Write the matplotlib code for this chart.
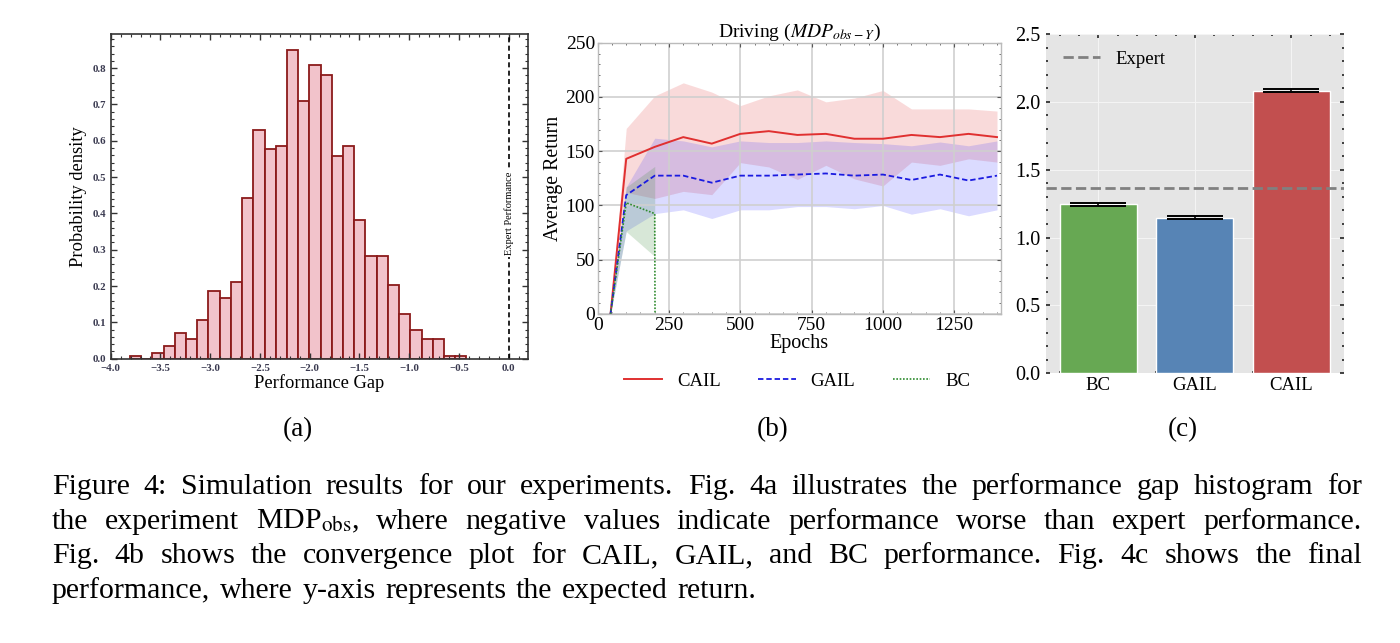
import numpy as np
import matplotlib
matplotlib.use("Agg")
import matplotlib.pyplot as plt
from matplotlib.ticker import MultipleLocator

plt.rcParams['font.family'] = ['Liberation Serif', 'DejaVu Serif']
plt.rcParams['mathtext.fontset'] = 'stix'

# ---------------- data ----------------
# (a) histogram of performance gap (30 bins)
hist_start = -3.806
hist_width = 0.1127
hist_density = [0.008, 0.0, 0.017, 0.036, 0.071, 0.053, 0.106, 0.186, 0.168, 0.212,
                0.443, 0.630, 0.576, 0.585, 0.851, 0.710, 0.808, 0.781, 0.559, 0.585,
                0.381, 0.283, 0.283, 0.204, 0.124, 0.079, 0.053, 0.053, 0.008, 0.008]
expert_gap = 0.0

# (b) convergence curves
epochs = [45, 100, 200, 300, 400, 500, 600, 700, 800, 900, 1000, 1100, 1200, 1300, 1400]
cail_mean = [0, 143, 154, 163, 157, 166, 168.5, 165, 166, 161.5, 161.5, 165, 163, 166, 163]
cail_upper = [0, 171, 201, 213, 204.5, 192, 201, 206.5, 195.5, 199, 206, 189, 189, 189, 187]
cail_lower = [0, 112, 106.5, 113, 110, 139.5, 135.5, 124, 137, 124.5, 118, 140, 137, 143, 140]
gail_mean = [0, 109.5, 127.5, 127.5, 121, 127.5, 127.5, 128.5, 129.5, 127.5, 128.5, 123.5, 128.5, 123, 127.5]
gail_upper = [0, 117, 162, 159.5, 154, 159.5, 158, 158, 159.5, 158, 157, 155, 158.5, 155, 159.5]
gail_lower = [0, 76.5, 92.5, 96, 88, 96, 96, 99, 99, 97, 100, 92, 97, 90.5, 96]
bc_epochs = [45, 100, 200, 201]
bc_mean = [0, 102.5, 92.5, 0]
bc_band_epochs = [45, 100, 200]
bc_upper = [0, 117, 136]
bc_lower = [0, 76, 53]

# (c) final performance
methods = ['BC', 'GAIL', 'CAIL']
final_return = [1.245, 1.147, 2.083]
final_err = [0.012, 0.012, 0.012]
expert_return = 1.368

caption_lines = [
    "Figure 4: Simulation results for our experiments. Fig. 4a illustrates the performance gap histogram for",
    r"the experiment MDP$_{\mathrm{obs}}$, where negative values indicate performance worse than expert performance.",
    "Fig. 4b shows the convergence plot for CAIL, GAIL, and BC performance. Fig. 4c shows the final",
    "performance, where y-axis represents the expected return.",
]

# ---------------- figure ----------------
W, H = 1400, 643
fig = plt.figure(figsize=(W / 100, H / 100), dpi=100)

def box(l, t, r, b):
    return [l / W, 1 - b / H, (r - l) / W, (b - t) / H]

# ---- (a) ----
axa = fig.add_axes(box(110.7, 34, 528, 358.7))
edges = hist_start + hist_width * np.arange(len(hist_density))
axa.bar(edges, hist_density, width=hist_width, align='edge',
        color='#f2c3cb', edgecolor='#8b1a1a', linewidth=1.3)
axa.axvline(expert_gap, color='black', ls=(0, (3, 2)), lw=1.2)
axa.text(expert_gap, 0.40, 'Expert Performance', rotation=90, ha='center', va='center',
         fontsize=7.5, bbox=dict(facecolor='white', edgecolor='none', pad=1.5))
axa.set_xlim(-4.0, 0.194)
axa.set_ylim(0, 0.894)
axa.xaxis.set_major_locator(MultipleLocator(0.5))
axa.yaxis.set_major_locator(MultipleLocator(0.1))
axa.xaxis.set_minor_locator(MultipleLocator(0.1))
axa.yaxis.set_minor_locator(MultipleLocator(0.02))
axa.tick_params(which='both', direction='in', top=True, right=True, colors='#333333',
                labelsize=7.8, labelcolor='#3a3a50')
axa.tick_params(which='major', length=4, width=1.0)
axa.tick_params(which='minor', length=2, width=0.8)
for lab in axa.get_xticklabels() + axa.get_yticklabels():
    lab.set_fontweight('bold')
for s in axa.spines.values():
    s.set_color('#333333'); s.set_linewidth(1.2)
axa.set_xlabel('Performance Gap', fontsize=13.3, labelpad=1)
axa.set_ylabel('Probability density', fontsize=13.3, labelpad=4)

# ---- (b) ----
axb = fig.add_axes(box(597.7, 42.7, 1001, 314))
axb.fill_between(epochs, cail_lower, cail_upper, color='#e02828', alpha=0.17, lw=0)
axb.fill_between(epochs, gail_lower, gail_upper, color='#2a2aff', alpha=0.17, lw=0)
axb.fill_between(bc_band_epochs, bc_lower, bc_upper, color='#3a8a3a', alpha=0.2, lw=0)
axb.plot(epochs, cail_mean, color='#e03030', lw=1.4, label='CAIL')
axb.plot(epochs, gail_mean, color='#1a1ae0', lw=1.3, ls=(0, (3, 1.6)), label='GAIL')
axb.plot(bc_epochs, bc_mean, color='#2e8b2e', lw=1.2, ls=(0, (1, 1)), label='BC')
axb.set_xlim(0, 1414)
axb.set_ylim(0, 250)
axb.xaxis.set_major_locator(MultipleLocator(250))
axb.yaxis.set_major_locator(MultipleLocator(50))
axb.xaxis.set_minor_locator(MultipleLocator(50))
axb.yaxis.set_minor_locator(MultipleLocator(10))
axb.grid(True, which='major', color='#cfcfcf', lw=1.2)
axb.tick_params(which='both', direction='in', top=True, right=True, colors='#555555',
                labelsize=14, labelcolor='black', pad=2)
axb.tick_params(which='major', length=3, width=0.8)
axb.tick_params(which='minor', length=1.5, width=0.6)
for s in axb.spines.values():
    s.set_color('#bbbbbb'); s.set_linewidth(1.0)
axb.set_title(r'Driving ($MDP_{obs-Y}$)', fontsize=14, pad=3)
axb.set_xlabel('Epochs', fontsize=14.5, labelpad=0)
axb.set_ylabel('Average Return', fontsize=14.3, labelpad=2)
axb.legend(loc='upper center', bbox_to_anchor=(0.495, -0.155), ncol=3, frameon=False,
           fontsize=13.5, handlelength=2.0, handletextpad=0.8, columnspacing=2.0)

# ---- (c) ----
axc = fig.add_axes(box(1045.7, 34, 1344, 373.3))
axc.set_facecolor('#e5e5e5')
bar_colors = ['#67a853', '#5784b5', '#c24f4f']
x = np.arange(len(methods))
axc.bar(x, final_return, width=0.8, color=bar_colors, edgecolor='white', linewidth=1.0,
        zorder=2)
axc.errorbar(x, final_return, yerr=final_err, fmt='none', ecolor='black', elinewidth=1.2,
             capsize=20, capthick=1.4, zorder=3)
axc.axhline(expert_return, color='#808080', ls='--', lw=2, label='Expert', zorder=2.5)
axc.set_xlim(-0.545, 2.545)
axc.set_ylim(0, 2.5)
axc.set_xticks(x)
axc.set_xticklabels(methods)
axc.yaxis.set_major_locator(MultipleLocator(0.5))
axc.yaxis.set_minor_locator(MultipleLocator(0.1))
axc.xaxis.set_minor_locator(MultipleLocator(0.2))
axc.grid(True, which='major', color='#f4f4f4', lw=0.8, zorder=0)
axc.set_axisbelow(True)
for s in axc.spines.values():
    s.set_visible(False)
axc.tick_params(which='both', direction='in', top=True, right=True, colors='#222222',
                labelcolor='black')
axc.tick_params(which='major', length=3, width=1.2)
axc.tick_params(which='minor', length=1.5, width=1.2)
axc.tick_params(axis='y', labelsize=14.5, pad=4)
axc.tick_params(axis='x', labelsize=13.5, pad=3)
axc.legend(loc='upper left', frameon=False, fontsize=13.5, handlelength=2.0,
           borderaxespad=0.5)

# ---- sub-labels ----
for xc, lab in [(298, '(a)'), (773, '(b)'), (1183, '(c)')]:
    fig.text(xc / W, 1 - 430 / H, lab, ha='center', va='center', fontsize=19.5)

# ---- justified caption ----
renderer = fig.canvas.get_renderer()
x0, x1 = 51.7, 1362
baselines = [494.3, 528.8, 563.2, 597.6]
cap_fs = 21.5
space_t = fig.text(0, 0, 'a b', fontsize=cap_fs)
aa = fig.text(0, 0, 'ab', fontsize=cap_fs)
space_w = space_t.get_window_extent(renderer).width - aa.get_window_extent(renderer).width
space_t.remove(); aa.remove()
for i, line in enumerate(caption_lines):
    words = line.split(' ')
    texts = [fig.text(0, 1 - baselines[i] / H, w, fontsize=cap_fs, va='baseline', ha='left')
             for w in words]
    widths = [t.get_window_extent(renderer).width for t in texts]
    if i < len(caption_lines) - 1:
        gap = (x1 - x0 - sum(widths)) / (len(words) - 1)
    else:
        gap = space_w * 1.3
    xp = x0
    for t, w in zip(texts, widths):
        t.set_x(xp / W)
        xp += w + gap

fig.savefig('out.png', dpi=100)
